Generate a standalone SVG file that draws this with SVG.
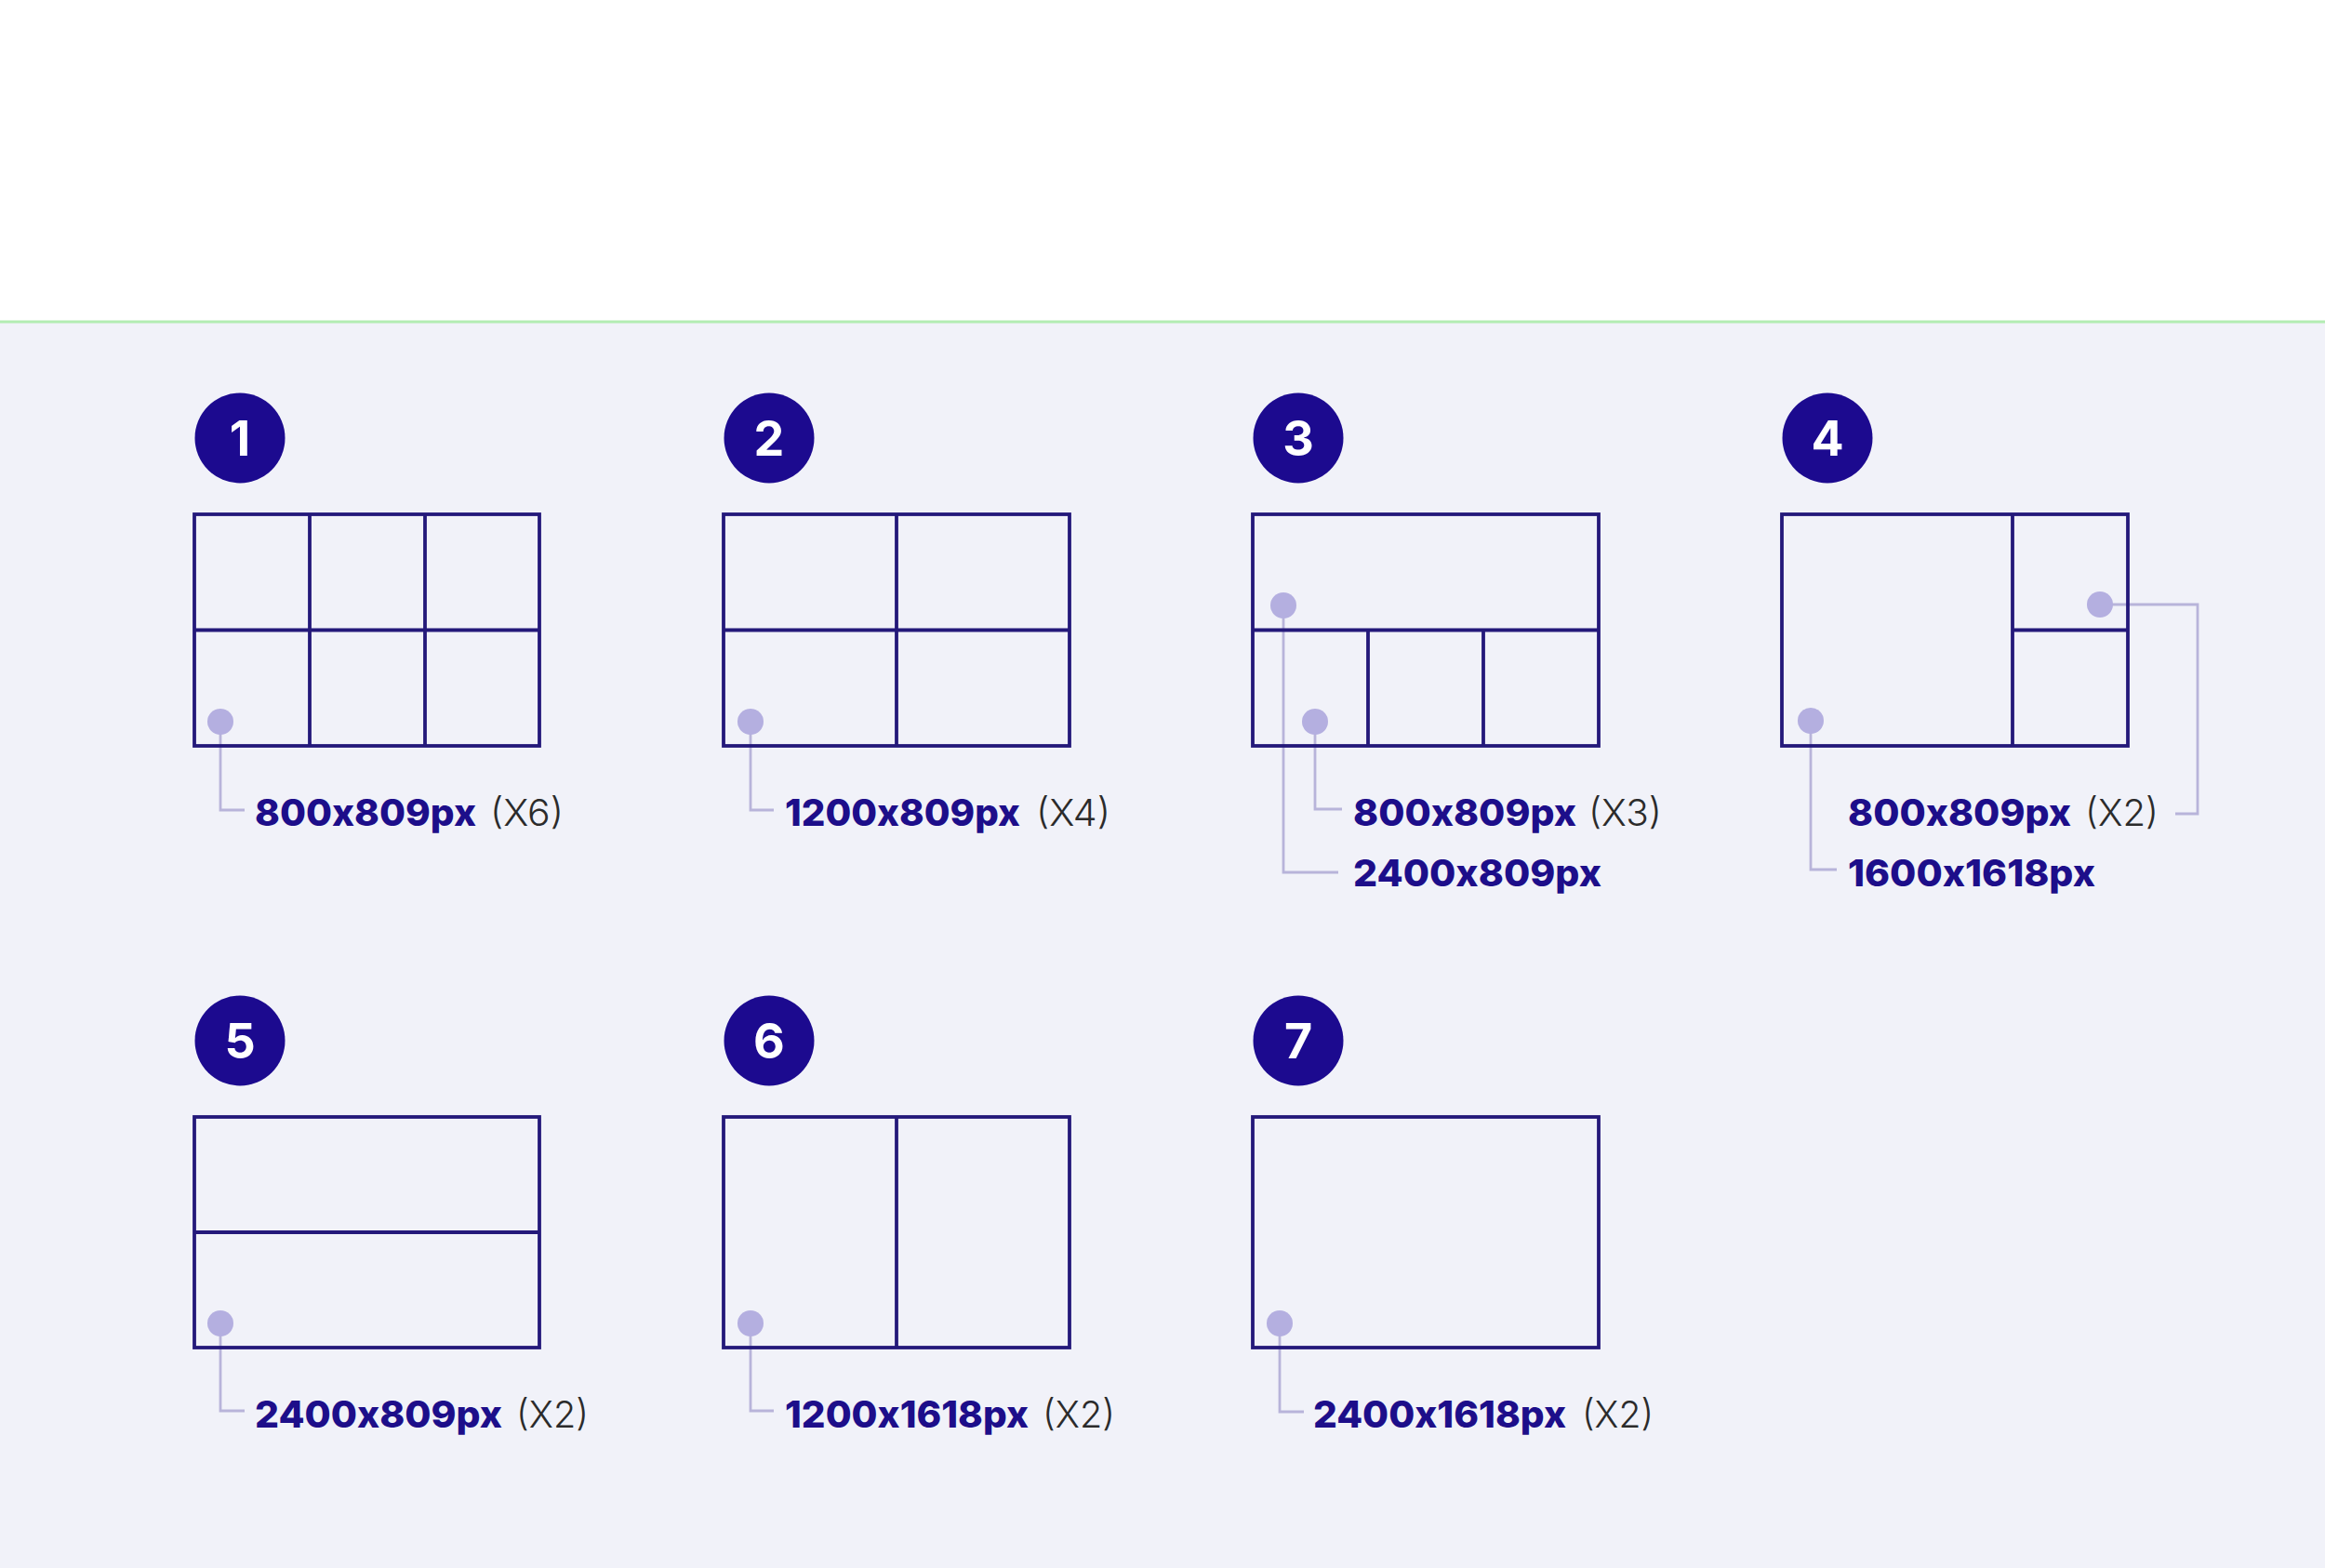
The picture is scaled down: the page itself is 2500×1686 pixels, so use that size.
<svg xmlns="http://www.w3.org/2000/svg" width="2500" height="1686" viewBox="0 0 2500 1686">
<style>
.bg{fill:#F1F2F9}
.grid{fill:none;stroke:#24197A;stroke-width:3.8}
.badge{fill:#1C0A8F}
.num{font-family:Inter,"Liberation Sans",sans-serif;font-weight:700;font-size:52px;fill:#FFFFFF;text-anchor:middle}
.dot{fill:#B4AFE0}
.conn{fill:none;stroke:#B8B4DA;stroke-width:2.8}
.lb{font-family:Inter,"Liberation Sans",sans-serif;font-weight:800;font-size:40px;fill:#1D0E8A;font-feature-settings:"calt" 0;font-variant-ligatures:no-contextual}
.lr{font-family:Inter,"Liberation Sans",sans-serif;font-weight:300;font-size:40px;fill:#2B2B2B}
</style>
<rect x="0" y="0" width="2500" height="1686" fill="#FFFFFF"/>
<rect class="bg" x="0" y="347" width="2500" height="1339"/>
<rect x="0" y="344.5" width="2500" height="3" fill="#B3ECB3"/>

<g id="connectors">
<path class="conn" d="M237 776 V871 H263"/>
<path class="conn" d="M807 776 V871 H832"/>
<path class="conn" d="M1414 776 V870 H1443"/>
<path class="conn" d="M1380 651 V938 H1439"/>
<path class="conn" d="M2258 650 H2363 V875 H2339"/>
<path class="conn" d="M1947 775 V935 H1975"/>
<path class="conn" d="M237 1423 V1517 H263"/>
<path class="conn" d="M807 1423 V1517 H832"/>
<path class="conn" d="M1376 1423 V1518 H1402"/>
</g>

<g id="node1">
<circle class="badge" cx="258" cy="471" r="48.5"/>
<text class="num" x="258" y="490">1</text>
<rect class="grid" x="209" y="553" width="371" height="249"/>
<path class="grid" d="M333 553 V802 M457 553 V802 M209 677.5 H580"/>
<circle class="dot" cx="237" cy="776" r="14"/>
<text class="lb" x="274" y="888" textLength="238" lengthAdjust="spacingAndGlyphs">800x809px</text>
<text class="lr" x="527" y="888" textLength="79" lengthAdjust="spacingAndGlyphs">(X6)</text>
</g>

<g id="node2">
<circle class="badge" cx="827" cy="471" r="48.5"/>
<text class="num" x="827" y="490">2</text>
<rect class="grid" x="778" y="553" width="372" height="249"/>
<path class="grid" d="M964 553 V802 M778 677.5 H1150"/>
<circle class="dot" cx="807" cy="776" r="14"/>
<text class="lb" x="844" y="888" textLength="253" lengthAdjust="spacingAndGlyphs">1200x809px</text>
<text class="lr" x="1114" y="888" textLength="80" lengthAdjust="spacingAndGlyphs">(X4)</text>
</g>

<g id="node3">
<circle class="badge" cx="1396" cy="471" r="48.5"/>
<text class="num" x="1396" y="490">3</text>
<rect class="grid" x="1347" y="553" width="372" height="249"/>
<path class="grid" d="M1347 677.5 H1719 M1471 677.5 V802 M1595 677.5 V802"/>
<circle class="dot" cx="1380" cy="651" r="14"/>
<circle class="dot" cx="1414" cy="776" r="14"/>
<text class="lb" x="1455" y="888" textLength="240" lengthAdjust="spacingAndGlyphs">800x809px</text>
<text class="lr" x="1708" y="888" textLength="79" lengthAdjust="spacingAndGlyphs">(X3)</text>
<text class="lb" x="1455" y="953" textLength="267" lengthAdjust="spacingAndGlyphs">2400x809px</text>
</g>

<g id="node4">
<circle class="badge" cx="1965" cy="471" r="48.5"/>
<text class="num" x="1965" y="490">4</text>
<rect class="grid" x="1916" y="553" width="372" height="249"/>
<path class="grid" d="M2164 553 V802 M2164 677.5 H2288"/>
<circle class="dot" cx="2258" cy="650" r="14"/>
<circle class="dot" cx="1947" cy="775" r="14"/>
<text class="lb" x="1987" y="888" textLength="240" lengthAdjust="spacingAndGlyphs">800x809px</text>
<text class="lr" x="2242" y="888" textLength="79" lengthAdjust="spacingAndGlyphs">(X2)</text>
<text class="lb" x="1987" y="953" textLength="266" lengthAdjust="spacingAndGlyphs">1600x1618px</text>
</g>

<g id="node5">
<circle class="badge" cx="258" cy="1119" r="48.5"/>
<text class="num" x="258" y="1138">5</text>
<rect class="grid" x="209" y="1201" width="371" height="248"/>
<path class="grid" d="M209 1325 H580"/>
<circle class="dot" cx="237" cy="1423" r="14"/>
<text class="lb" x="274" y="1535" textLength="266" lengthAdjust="spacingAndGlyphs">2400x809px</text>
<text class="lr" x="555" y="1535" textLength="78" lengthAdjust="spacingAndGlyphs">(X2)</text>
</g>

<g id="node6">
<circle class="badge" cx="827" cy="1119" r="48.5"/>
<text class="num" x="827" y="1138">6</text>
<rect class="grid" x="778" y="1201" width="372" height="248"/>
<path class="grid" d="M964 1201 V1449"/>
<circle class="dot" cx="807" cy="1423" r="14"/>
<text class="lb" x="844" y="1535" textLength="262" lengthAdjust="spacingAndGlyphs">1200x1618px</text>
<text class="lr" x="1121" y="1535" textLength="78" lengthAdjust="spacingAndGlyphs">(X2)</text>
</g>

<g id="node7">
<circle class="badge" cx="1396" cy="1119" r="48.5"/>
<text class="num" x="1396" y="1138">7</text>
<rect class="grid" x="1347" y="1201" width="372" height="248"/>
<circle class="dot" cx="1376" cy="1423" r="14"/>
<text class="lb" x="1412" y="1535" textLength="272" lengthAdjust="spacingAndGlyphs">2400x1618px</text>
<text class="lr" x="1701" y="1535" textLength="77" lengthAdjust="spacingAndGlyphs">(X2)</text>
</g>
</svg>
